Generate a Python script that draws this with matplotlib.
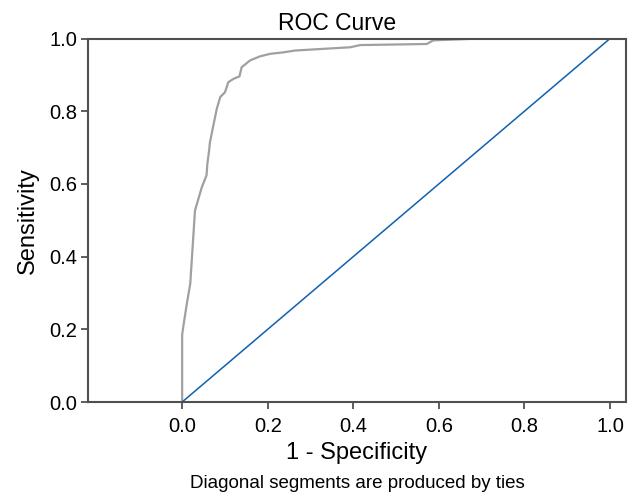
import matplotlib
matplotlib.use('Agg')
import matplotlib.pyplot as plt

plt.rcParams['font.family'] = ['Liberation Sans', 'DejaVu Sans']

# ROC 곡선 좌표
fpr = [0.0, 0.0, 0.003, 0.011, 0.019, 0.026, 0.030, 0.046, 0.057, 0.059,
       0.063, 0.065, 0.073, 0.081, 0.089, 0.100, 0.108, 0.120, 0.134, 0.139,
       0.159, 0.182, 0.206, 0.237, 0.264, 0.393, 0.416, 0.572, 0.587, 0.696, 1.0]
tpr = [0.0, 0.185, 0.210, 0.271, 0.326, 0.454, 0.527, 0.591, 0.624, 0.656,
       0.692, 0.715, 0.761, 0.807, 0.839, 0.852, 0.880, 0.889, 0.896, 0.921,
       0.940, 0.951, 0.958, 0.962, 0.967, 0.976, 0.982, 0.985, 0.995, 1.0, 1.0]
ref_line = [0.0, 1.0]

x_ticks = [0.0, 0.2, 0.4, 0.6, 0.8, 1.0]
y_ticks = [0.0, 0.2, 0.4, 0.6, 0.8, 1.0]

fig = plt.figure(figsize=(6.36, 4.94), dpi=100)
ax = fig.add_axes([0.1384, 0.1862, 0.8456, 0.7358])

ax.plot(fpr, tpr, color='#a0a0a0', linewidth=1.6)
ax.plot(ref_line, ref_line, color='#1060b0', linewidth=1.1)

ax.set_xlim(-0.22, 1.037)
ax.set_ylim(0, 1)
ax.set_xticks(x_ticks)
ax.set_yticks(y_ticks)
ax.set_xticklabels([f'{t:.1f}' for t in x_ticks])
ax.set_yticklabels([f'{t:.1f}' for t in y_ticks])

for s in ax.spines.values():
    s.set_color('#505050')
    s.set_linewidth(1.5)
ax.tick_params(direction='out', length=5, width=1.3, color='#505050',
               labelsize=14.5, labelcolor='black')
ax.tick_params(axis='x', pad=5.5)
ax.tick_params(axis='y', pad=2.5)

# 제목 / 축 레이블 위치는 원본 픽셀 위치에 맞춤
ax.set_title('ROC Curve', fontsize=16.5, x=0.4637, y=1.0239, pad=0)
ax.set_xlabel('1 - Specificity', fontsize=17, va='baseline')
ax.xaxis.set_label_coords(0.5, -0.1566)
ax.set_ylabel('Sensitivity', fontsize=17, va='baseline')
ax.yaxis.set_label_coords(-0.0998, 0.5)

fig.text(0.5613, 0.0122, 'Diagonal segments are produced by ties',
         ha='center', va='baseline', fontsize=13.5)

plt.savefig('out.png', dpi=100)
